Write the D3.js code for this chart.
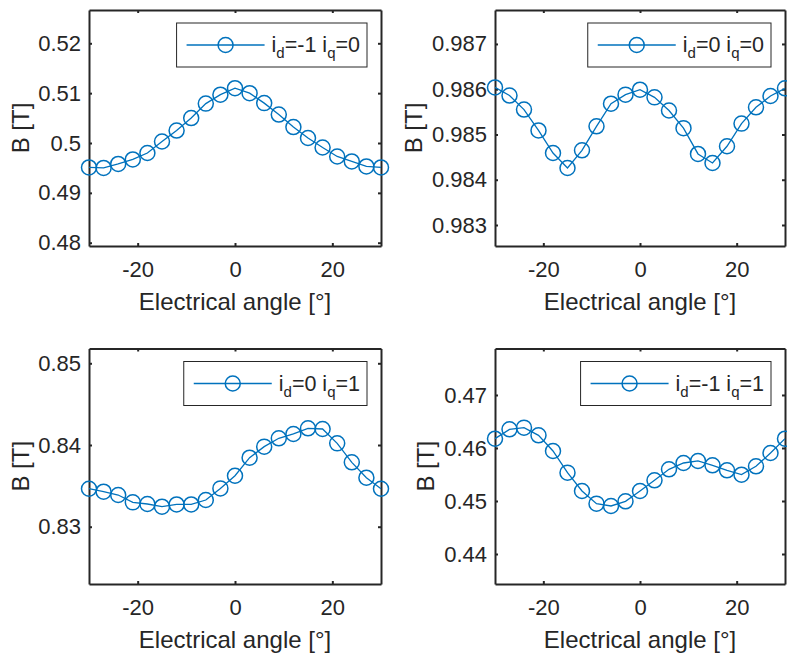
<!DOCTYPE html>
<html>
<head>
<meta charset="utf-8">
<script src="https://cdn.jsdelivr.net/npm/d3@7"></script>
<style>
  body { margin: 0; background: #fff; }
  svg { display: block; font-family: "Liberation Sans", Arial, sans-serif; }
</style>
</head>
<body>
<svg id="chart" width="787" height="655"></svg>
<script>
// electrical angle samples [deg]
const angles = [-30, -27, -24, -21, -18, -15, -12, -9, -6, -3, 0, 3, 6, 9, 12, 15, 18, 21, 24, 27, 30];

// flux density [T]
const bIdm1Iq0 = [0.4951, 0.4950, 0.4958, 0.4967, 0.4980, 0.5003, 0.5025, 0.5050, 0.5079, 0.5097, 0.5110,
                  0.5100, 0.5080, 0.5057, 0.5032, 0.5010, 0.4991, 0.4973, 0.4963, 0.4953, 0.4951];
const bId0Iq0 = [0.98604, 0.98586, 0.98555, 0.98509, 0.98459, 0.98426, 0.98465, 0.98518, 0.98568, 0.98588, 0.98599,
                 0.98582, 0.98553, 0.98514, 0.98457, 0.98437, 0.98474, 0.98524, 0.98560, 0.98585, 0.98602];
const bId0Iq1 = [0.83465, 0.83429, 0.83388, 0.83298, 0.83278, 0.83245, 0.83273, 0.83273, 0.83327, 0.83469, 0.83624,
                 0.83845, 0.83980, 0.84082, 0.84135, 0.84204, 0.84196, 0.84020, 0.83788, 0.83600, 0.83465];
const bIdm1Iq1 = [0.46176, 0.46352, 0.46384, 0.46239, 0.45943, 0.45535, 0.45189, 0.44950, 0.44906, 0.44994, 0.45189,
                  0.45390, 0.45597, 0.45717, 0.45755, 0.45673, 0.45579, 0.45497, 0.45654, 0.45906, 0.46176];

const xTicks = [-20, 0, 20];
const yTicksA = [0.48, 0.49, 0.50, 0.51, 0.52];
const yTicksB = [0.983, 0.984, 0.985, 0.986, 0.987];
const yTicksC = [0.83, 0.84, 0.85];
const yTicksD = [0.44, 0.45, 0.46, 0.47];

// legend labels: [id, iq]
const legendA = ["-1", "0"];
const legendB = ["0", "0"];
const legendC = ["0", "1"];
const legendD = ["-1", "1"];

const blue = "#0072BD";
const ink = "#262626";

const panels = [
    {values: bIdm1Iq0, yDomain: [0.47934, 0.52668], yTicks: yTicksA, fmt: d3.format(".2~f"), legend: legendA,
     left: 89, top: 10, width: 292, height: 236, labelOff: 68},
    {values: bId0Iq0, yDomain: [0.982536, 0.98775], yTicks: yTicksB, fmt: d3.format(".3f"), legend: legendB,
     left: 495, top: 10, width: 290, height: 236, labelOff: 81},
    {values: bId0Iq1, yDomain: [0.82299, 0.85181], yTicks: yTicksC, fmt: d3.format(".2f"), legend: legendC,
     left: 89, top: 348.5, width: 292, height: 235.5, labelOff: 68},
    {values: bIdm1Iq1, yDomain: [0.43434, 0.47877], yTicks: yTicksD, fmt: d3.format(".2f"), legend: legendD,
     left: 495, top: 348.5, width: 290, height: 235.5, labelOff: 69}
];


function styleAxis(g) {
    g.selectAll(".domain").attr("stroke", ink).attr("stroke-width", 2);
    g.selectAll(".tick line").attr("stroke", ink).attr("stroke-width", 2);
    g.selectAll(".tick text")
        .attr("fill", ink)
        .style("font-size", "22px");
}


function drawLegend(g, p) {
    const right = p.width - 14;
    const top = 13;
    const h = 44;

    let box = g.append("rect")
        .attr("y", top)
        .attr("height", h)
        .attr("fill", "#fff")
        .attr("stroke", ink)
        .attr("stroke-width", 1);

    let item = g.append("g");

    let label = item.append("text")
        .attr("x", 95)
        .attr("y", top + h / 2 + 7)
        .attr("fill", ink)
        .style("font-size", "21.5px");
    label.append("tspan").text("i");
    label.append("tspan").attr("dy", 6).style("font-size", "15px").text("d");
    label.append("tspan").attr("dy", -6).text(`=${p.legend[0]} i`);
    label.append("tspan").attr("dy", 6).style("font-size", "15px").text("q");
    label.append("tspan").attr("dy", -6).text(`=${p.legend[1]}`);

    const tw = label.node().getComputedTextLength();
    const boxW = 95 + tw + 7;
    const x0 = right - boxW;

    box.attr("x", x0).attr("width", boxW);
    item.attr("transform", `translate(${x0},0)`);

    item.append("line")
        .attr("x1", 10)
        .attr("x2", 88)
        .attr("y1", top + h / 2)
        .attr("y2", top + h / 2)
        .attr("stroke", blue)
        .attr("stroke-width", 1.3);

    item.append("circle")
        .attr("cx", 49)
        .attr("cy", top + h / 2)
        .attr("r", 7.5)
        .attr("fill", "none")
        .attr("stroke", blue)
        .attr("stroke-width", 1.5);
}


function drawPanel(svg, p) {
    let g = svg.append("g")
        .attr("transform", `translate(${p.left},${p.top})`);

    const x = d3.scaleLinear().domain([-30, 30]).range([0, p.width]);
    const y = d3.scaleLinear().domain(p.yDomain).range([p.height, 0]);

    // MATLAB style labels use a plain hyphen
    const xFmt = d => String(d);

    g.append("g")
        .attr("transform", `translate(0,${p.height})`)
        .call(d3.axisBottom(x).tickValues(xTicks).tickSizeInner(-3).tickSizeOuter(0).tickPadding(15).tickFormat(xFmt))
        .call(styleAxis);

    g.append("g")
        .call(d3.axisTop(x).tickValues(xTicks).tickSizeInner(-3).tickSizeOuter(0).tickFormat(""))
        .call(styleAxis);

    g.append("g")
        .call(d3.axisLeft(y).tickValues(p.yTicks).tickSizeInner(-3).tickSizeOuter(0).tickPadding(8).tickFormat(p.fmt))
        .call(styleAxis);

    g.append("g")
        .attr("transform", `translate(${p.width},0)`)
        .call(d3.axisRight(y).tickValues(p.yTicks).tickSizeInner(-3).tickSizeOuter(0).tickFormat(""))
        .call(styleAxis);

    g.selectAll("g").attr("font-family", null).attr("font-size", null);

    const pts = angles.map((a, i) => [a, p.values[i]]);

    g.append("path")
        .datum(pts)
        .attr("fill", "none")
        .attr("stroke", blue)
        .attr("stroke-width", 1.3)
        .attr("d", d3.line().x(d => x(d[0])).y(d => y(d[1])));

    g.selectAll("circle.pt")
        .data(pts)
        .join("circle")
        .attr("class", "pt")
        .attr("cx", d => x(d[0]))
        .attr("cy", d => y(d[1]))
        .attr("r", 7.5)
        .attr("fill", "none")
        .attr("stroke", blue)
        .attr("stroke-width", 1.5);

    g.append("text")
        .attr("x", p.width / 2)
        .attr("y", p.height + 64)
        .attr("text-anchor", "middle")
        .attr("fill", ink)
        .style("font-size", "24px")
        .text("Electrical angle [°]");

    g.append("text")
        .attr("transform", `translate(${-p.labelOff},${p.height / 2}) rotate(-90)`)
        .attr("text-anchor", "middle")
        .attr("dy", "0.35em")
        .attr("fill", ink)
        .style("font-size", "24px")
        .text("B [T]");

    drawLegend(g, p);
}


let svg = d3.select("#chart");
panels.forEach(p => drawPanel(svg, p));
</script>
</body>
</html>
